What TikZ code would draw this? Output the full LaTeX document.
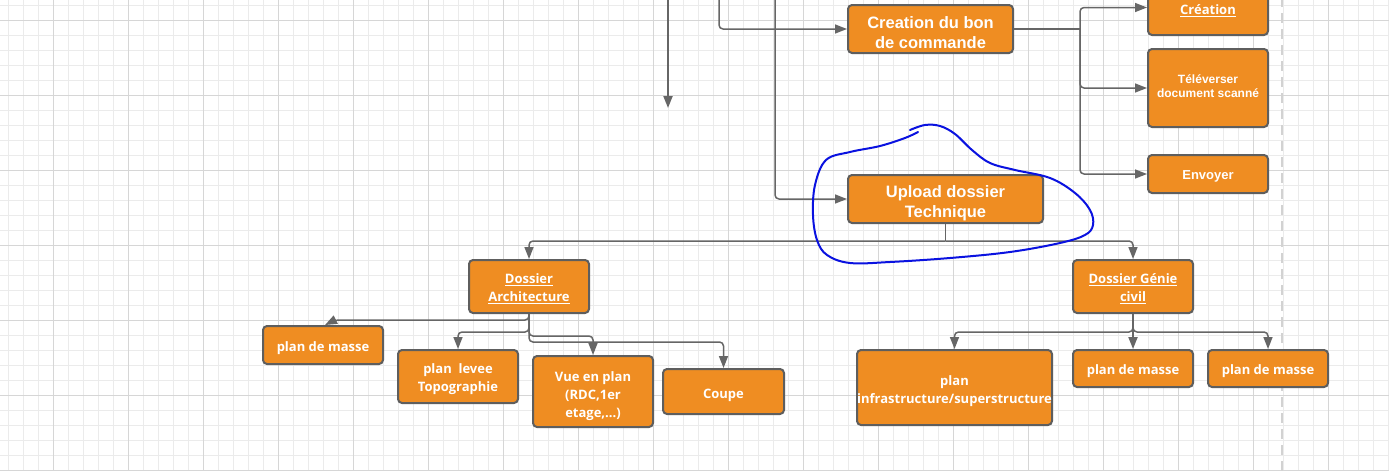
\documentclass[tikz,border=0pt]{standalone}
\usepackage{fontspec}
\setmainfont{Open Sans}
\newfontfamily\arialf{Liberation Sans}
\usetikzlibrary{arrows.meta}
\definecolor{boxfill}{HTML}{EF8D22}
\definecolor{boxline}{HTML}{5E5E5E}
\definecolor{connc}{HTML}{666666}
\definecolor{gridminor}{HTML}{EBEBEB}
\definecolor{gridmajor}{HTML}{D6D6D6}
\definecolor{dashc}{HTML}{D2D2D2}
\definecolor{inkblue}{HTML}{0A12E0}
\newcommand{\tup}[1]{\rule{0pt}{#1}}
\newcommand{\tdn}[1]{\rule[-#1]{0pt}{#1}}
\begin{document}
\begin{tikzpicture}[x=1pt,y=-1pt,
  box/.style={draw=boxline, fill=boxfill, line width=2pt, rounded corners=4pt,
    text=white, font=\bfseries\fontsize{13}{18}\selectfont, align=center, inner sep=0pt},
  arialbox/.style={box, font=\arialf\bfseries\fontsize{16.5}{20}\selectfont},
  link/.style={draw=connc, line width=1.5pt, rounded corners=4pt,
    -{Triangle[length=12pt,width=9pt]}},
  plainlink/.style={draw=connc, line width=1.5pt, rounded corners=4pt},
]
\useasboundingbox (0,0) rectangle (1389,471);
\fill[white] (0,0) rectangle (1389,471);
\begin{scope}
  \clip (0,0) rectangle (1389,471);
  \foreach \i in {0,...,92} \draw[gridminor, line width=1pt] ({8.33+15*\i},0) -- ++(0,471);
  \foreach \j in {0,...,31} \draw[gridminor, line width=1pt] (0,{5+15*\j}) -- ++(1389,0);
  \foreach \i in {0,...,18} \draw[gridmajor, line width=1pt] ({53.33+75*\i},0) -- ++(0,471);
  \foreach \j in {0,...,6} \draw[gridmajor, line width=1pt] (0,{20+75*\j}) -- ++(1389,0);
  \draw[dashc, line width=2.5pt, dash pattern=on 10pt off 6pt] (1282,-3) -- (1282,474);
\end{scope}

% boxes
\node[arialbox, minimum width=165pt, minimum height=48pt] (cmd) at (930.5,29) {\tup{19.5pt}Creation du bon\\de commande};
\node[box, minimum width=120pt, minimum height=55pt] (creation) at (1208,7.5) {\tup{16pt}\underline{Création}};
\node[box, font=\arialf\bfseries\fontsize{12}{14}\selectfont, minimum width=120pt, minimum height=78pt] (tele) at (1208,88) {Téléverser\\document scanné\tdn{4pt}};
\node[box, font=\arialf\bfseries\fontsize{13}{16}\selectfont, minimum width=120pt, minimum height=38pt] (envoyer) at (1208,174) {\tup{13.5pt}Envoyer};
\node[arialbox, minimum width=195pt, minimum height=48pt] (upload) at (945.5,199) {\tup{19.5pt}Upload dossier\\Technique};
\node[box, minimum width=120pt, minimum height=53pt] (arch) at (529,286.5) {\tup{14pt}\underline{Dossier}\\\underline{Architecture}};
\node[box, minimum width=120pt, minimum height=53pt] (gc) at (1133,286.5) {\tup{15pt}\underline{Dossier Génie}\\\underline{civil}};
\node[box, minimum width=120pt, minimum height=38pt] (pm1) at (323,345) {\tup{16pt}plan de masse};
\node[box, minimum width=120pt, minimum height=53pt] (topo) at (458,376.5) {\tup{16pt}plan~ levee\\Topographie};
\node[box, minimum width=120pt, minimum height=71pt] (vue) at (593,391.5) {\tup{19pt}Vue en plan\\(RDC,1er\\etage,...)};
\node[box, minimum width=121pt, minimum height=45pt] (coupe) at (723.5,391.5) {\tup{17.5pt}Coupe};
\node[box, minimum width=195pt, minimum height=75pt] (infra) at (954.5,387.5) {\tup{17.5pt}plan\\infrastructure/superstructure};
\node[box, minimum width=120pt, minimum height=37pt] (pm2) at (1133,368.5) {\tup{15pt}plan de masse};
\node[box, minimum width=120pt, minimum height=37pt] (pm3) at (1268,368.5) {\tup{15pt}plan de masse};

% connectors from the top
\coordinate (t1) at (668,-3);
\coordinate (t1e) at (668,108);
\coordinate (t2) at (719,-3);
\coordinate (t3) at (775,-3);
\draw[link, line width=2pt] (t1) -- (t1e);
\draw[link] (t2) |- (cmd.west);
\draw[link] (t3) |- (upload.west);

% bon de commande branches
\coordinate (j1) at (1080,29);
\draw[plainlink] (cmd.east) -- (j1);
\draw[link] (j1) |- (creation.west);
\draw[link] (j1) |- (tele.west);
\draw[link] (j1) |- (envoyer.west);

% upload branches
\coordinate (j2) at (945.5,241);
\draw[plainlink] (upload.south) -- (j2);
\draw[link] (j2) -| (arch.north);
\draw[link] (j2) -| (gc.north);

% architecture branches
\coordinate (a0) at (335,320);
\draw[link] (arch.south) |- (a0) -- ([xshift=2pt]pm1.north);
\draw[link] (arch.south) -- ++(0,18) -| (topo.north);
\draw[link] (arch.south) -- ++(0,22) -| (vue.north);
\draw[link] (arch.south) -- ++(0,28) -| (coupe.north);

% genie civil branches
\draw[plainlink, line width=2pt] (gc.south) -- ++(0,18);
\draw[link] (gc.south) -- ++(0,18) -| (infra.north);
\draw[link, line width=2pt] (gc.south) -- (pm2.north);
\draw[link] (gc.south) -- ++(0,18) -| (pm3.north);

% hand-drawn blue loop
\draw[inkblue, line width=2pt, line cap=round, line join=round]
  plot[smooth, tension=0.6] coordinates {
  (910,130) (925,125) (940,126) (955,134) (972,150) (990,163) (1015,170)
  (1050,178) (1075,193) (1090,210) (1093,225) (1085,235) (1060,243)
  (1010,252) (950,258) (890,262) (850,263) (827,255) (817,240) (813,215)
  (815,185) (826,160) (850,152) (880,146) (905,138) (918,132)};
\end{tikzpicture}
\end{document}
